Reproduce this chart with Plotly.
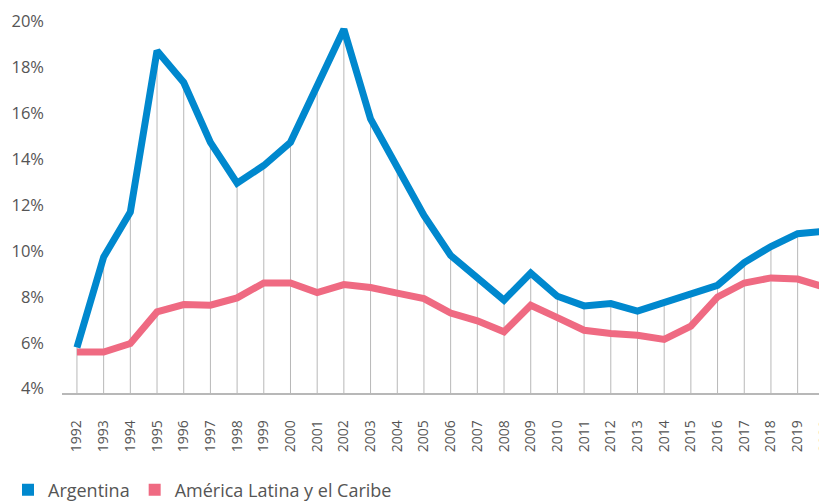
import plotly.graph_objects as go

years = list(range(1992, 2021))
argentina = [5.8, 9.74, 11.7, 18.73, 17.35, 14.74, 12.96, 13.73, 14.74, 17.28,
             19.67, 15.76, 13.68, 11.55, 9.81, 8.87, 7.86, 9.04, 8.03, 7.61,
             7.71, 7.38, 7.78, 8.12, 8.51, 9.5, 10.2, 10.76, 10.86]
latam = [5.6, 5.6, 5.97, 7.35, 7.67, 7.64, 7.96, 8.61, 8.61, 8.19,
         8.54, 8.41, 8.17, 7.93, 7.3, 6.96, 6.48, 7.64, 7.1, 6.55,
         6.41, 6.33, 6.15, 6.73, 8.0, 8.61, 8.83, 8.78, 8.43]
series_names = ["Argentina", "América Latina y el Caribe"]
series_colors = ["#0088CE", "#EF6A82"]
y_tickvals = [4, 6, 8, 10, 12, 14, 16, 18, 20]
y_ticktext = ["4%", "6%", "8%", "10%", "12%", "14%", "16%", "18%", "20%"]

Y_MIN = 3.813
Y_MAX = 20.51

fig = go.Figure()

# vertical drop lines from the baseline to the Argentina value
dx, dy = [], []
for yr, v in zip(years, argentina):
    dx += [yr, yr, None]
    dy += [Y_MIN, v, None]
fig.add_trace(go.Scatter(x=dx, y=dy, mode="lines", line=dict(color="#B8B8B8", width=1),
                         hoverinfo="skip", showlegend=False))

fig.add_trace(go.Scatter(x=years, y=latam, mode="lines", name=series_names[1],
                         line=dict(color=series_colors[1], width=7), showlegend=False))
fig.add_trace(go.Scatter(x=years, y=argentina, mode="lines", name=series_names[0],
                         line=dict(color=series_colors[0], width=7), showlegend=False))

# legend swatches
for name, col in zip(series_names, series_colors):
    fig.add_trace(go.Scatter(x=[None], y=[None], mode="markers", name=name,
                             marker=dict(symbol="square", size=16, color=col)))

fig.update_layout(
    width=819, height=495,
    margin=dict(l=54, r=0, t=2, b=110, autoexpand=False),
    paper_bgcolor="white", plot_bgcolor="white",
    font=dict(family="Open Sans", color="#555555"),
    showlegend=True,
    legend=dict(orientation="h", x=-0.005, y=0.026, xref="container", yref="container",
                xanchor="left", yanchor="middle",
                font=dict(size=18, color="#555555"), itemwidth=30,
                tracegroupgap=0, bgcolor="rgba(0,0,0,0)",
                itemsizing="constant"),
    xaxis=dict(range=[1991.44, 2020.1], tickmode="array", tickvals=years,
               ticktext=[str(y) for y in years], tickangle=-90,
               showgrid=False, zeroline=False, showline=True, automargin=False,
               linecolor="#B8B8B8", linewidth=1.5, ticks="",
               ticklabelstandoff=20, ticklabeloverflow="allow",
               tickfont=dict(size=14, color="#555555")),
    yaxis=dict(range=[Y_MIN, Y_MAX], tickmode="array", tickvals=y_tickvals,
               ticktext=y_ticktext, showgrid=False, zeroline=False, showline=False,
               ticks="", ticklabelstandoff=17, automargin=False,
               tickfont=dict(size=16.5, color="#555555")),
)

fig.write_html("out.html")
